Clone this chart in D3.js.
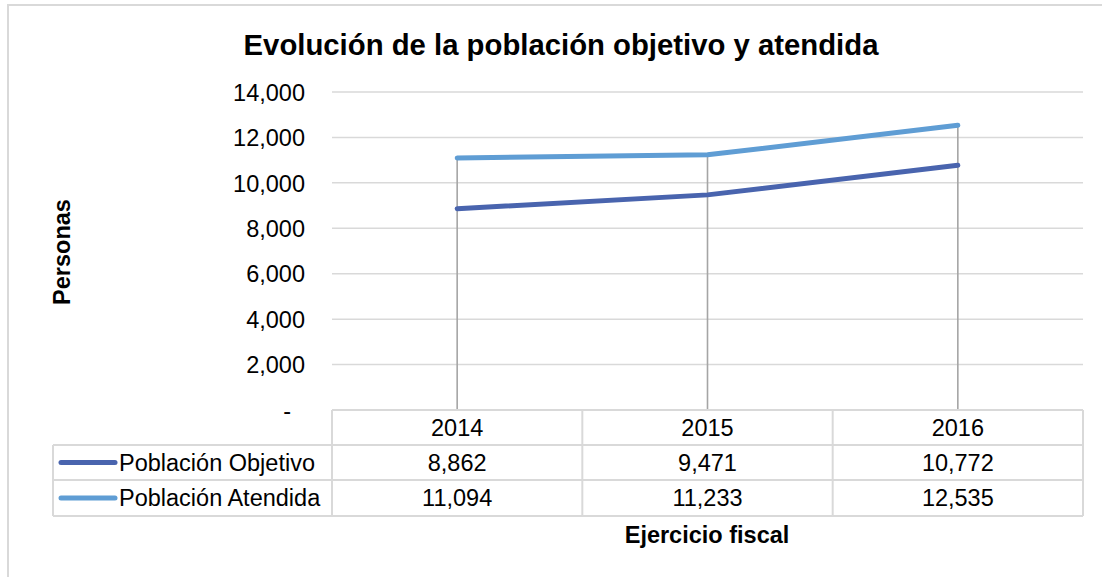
<!DOCTYPE html>
<html><head><meta charset="utf-8">
<script src="https://cdn.jsdelivr.net/npm/d3@7"></script>
<style>
html,body{margin:0;padding:0;background:#fff;}
text{font-family:"Liberation Sans",Arial,sans-serif;fill:#000;}
</style></head>
<body>
<svg id="chart" width="1102" height="577"></svg>
<script>
const years = ["2014", "2015", "2016"];
const seriesNames = ["Población Objetivo", "Población Atendida"];
const objetivo = [8862, 9471, 10772];
const atendida = [11094, 11233, 12535];
const yTicks = [0, 2000, 4000, 6000, 8000, 10000, 12000, 14000];
const colors = ["#4964ae", "#5f9dd4"];
const titleText = "Evolución de la población objetivo y atendida";
const yTitle = "Personas";
const xTitle = "Ejercicio fiscal";

const svg = d3.select("#chart");
const fs = 23.5;

// outer frame (left and top edges visible)
svg.append("line").attr("x1",8).attr("x2",8).attr("y1",4).attr("y2",577).attr("stroke","#d9d9d9").attr("stroke-width",2);
svg.append("line").attr("x1",8).attr("x2",1102).attr("y1",5).attr("y2",5).attr("stroke","#d9d9d9").attr("stroke-width",2);

const x = d3.scaleBand().domain(years).range([332, 1083]);
const y = d3.scaleLinear().domain([0, 14000]).range([410, 92]);
const cx = d => x(d) + x.bandwidth()/2;

// gridlines
svg.append("g").selectAll("line").data(yTicks.filter(d=>d>0)).join("line")
  .attr("x1",332).attr("x2",1083).attr("y1",d=>y(d)).attr("y2",d=>y(d))
  .attr("stroke","#d9d9d9").attr("stroke-width",1.5);

// y axis labels
const yAxis = d3.axisLeft(y).tickValues(yTicks).tickSize(0).tickPadding(0)
  .tickFormat(d => d === 0 ? "-" : d3.format(",")(d));
const ga = svg.append("g").attr("transform","translate(305,0)").call(yAxis);
ga.select(".domain").remove();
ga.selectAll("text").attr("font-size",fs).attr("font-family","Liberation Sans, Arial, sans-serif").attr("fill","#000")
  .attr("dy","0.35em")
  .attr("x", d => d === 0 ? -14 : 0);

// drop lines from higher series to axis
svg.append("g").selectAll("line").data(years).join("line")
  .attr("x1",d=>cx(d)).attr("x2",d=>cx(d))
  .attr("y1",(d,i)=>y(Math.max(objetivo[i],atendida[i]))).attr("y2",y(0))
  .attr("stroke","#a5a5a5").attr("stroke-width",1.6);

// lines
const line = d3.line().x((v,i)=>cx(years[i])).y(v=>y(v));
[objetivo, atendida].forEach((s,k)=>{
  svg.append("path").datum(s).attr("d",line).attr("fill","none")
    .attr("stroke",colors[k]).attr("stroke-width",5).attr("stroke-linecap","round").attr("stroke-linejoin","round");
});

// data table
const rowTops = [410, 445, 480, 516];
const tableLeft = 53;
const gc = "#d9d9d9";
const tg = svg.append("g").attr("stroke",gc).attr("stroke-width",2);
tg.append("line").attr("x1",332).attr("x2",1083).attr("y1",rowTops[0]).attr("y2",rowTops[0]);
[1,2,3].forEach(r=>tg.append("line").attr("x1",tableLeft).attr("x2",1083).attr("y1",rowTops[r]).attr("y2",rowTops[r]));
tg.append("line").attr("x1",tableLeft).attr("x2",tableLeft).attr("y1",rowTops[1]).attr("y2",rowTops[3]);
years.forEach(yr=>tg.append("line").attr("x1",x(yr)).attr("x2",x(yr)).attr("y1",rowTops[0]).attr("y2",rowTops[3]));
tg.append("line").attr("x1",1083).attr("x2",1083).attr("y1",rowTops[0]).attr("y2",rowTops[3]);

const mid = r => (rowTops[r]+rowTops[r+1])/2;
svg.append("g").selectAll("text").data(years).join("text")
  .attr("x",d=>cx(d)).attr("y",mid(0)).attr("dy","0.35em").attr("text-anchor","middle").attr("font-size",fs).text(d=>d);
[objetivo, atendida].forEach((s,k)=>{
  const r = k+1;
  svg.append("line").attr("x1",61).attr("x2",115).attr("y1",mid(r)).attr("y2",mid(r))
    .attr("stroke",colors[k]).attr("stroke-width",5).attr("stroke-linecap","round");
  svg.append("text").attr("x",119).attr("y",mid(r)).attr("dy","0.35em").attr("font-size",fs).text(seriesNames[k]);
  svg.append("g").selectAll("text").data(s).join("text")
    .attr("x",(v,i)=>cx(years[i])).attr("y",mid(r)).attr("dy","0.35em").attr("text-anchor","middle")
    .attr("font-size",fs).text(v=>d3.format(",")(v));
});

// titles
svg.append("text").attr("x",561).attr("y",55).attr("text-anchor","middle").attr("font-size",29.3).attr("font-weight","bold").text(titleText);
svg.append("text").attr("transform","translate(70,252) rotate(-90)").attr("text-anchor","middle").attr("font-size",fs).attr("font-weight","bold").text(yTitle);
svg.append("text").attr("x",707).attr("y",543).attr("text-anchor","middle").attr("font-size",fs).attr("font-weight","bold").text(xTitle);
</script>
</body></html>
